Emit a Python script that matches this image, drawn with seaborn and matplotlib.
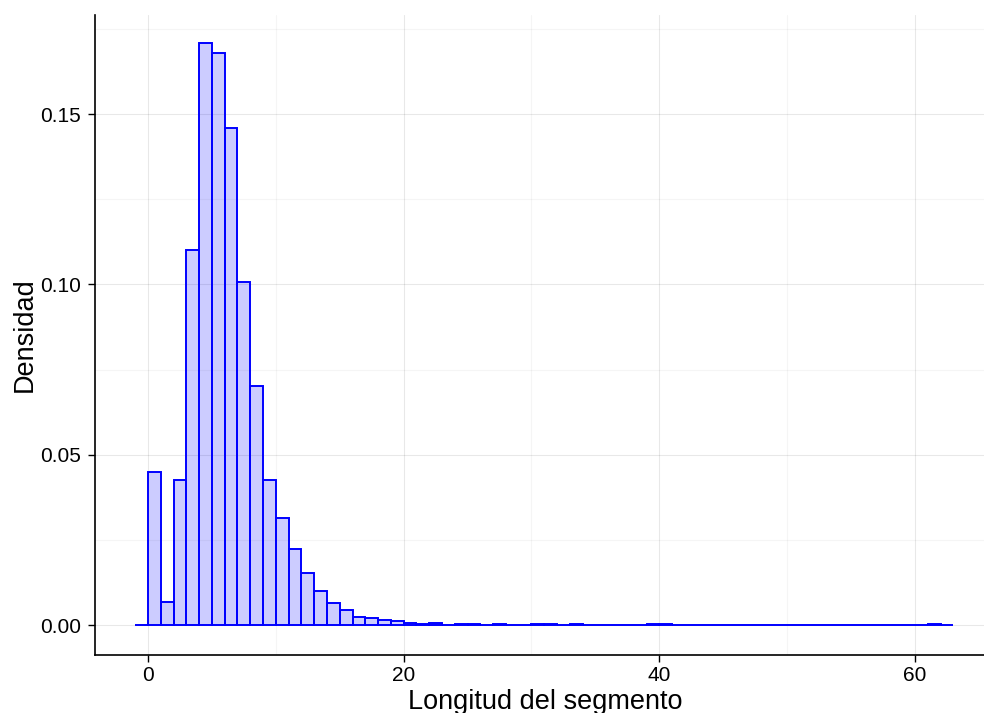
import matplotlib
matplotlib.use("Agg")
import matplotlib.pyplot as plt
import pandas as pd
import seaborn as sns

# bin edges (unit width) and density per bin
bin_left = list(range(-1, 63))
density = [
    0.0,                                                        # -1
    0.0448, 0.0068, 0.0426, 0.1102, 0.1708, 0.1679, 0.1459,     # 0..6
    0.1007, 0.0703, 0.0426, 0.0313, 0.0224, 0.0152, 0.0099,     # 7..13
    0.0064, 0.0044, 0.0023, 0.0021, 0.0014, 0.0012, 0.0007,     # 14..20
    0.0004, 0.0007, 0.0001, 0.0002, 0.0002, 0.0001, 0.0002,     # 21..27
    0.0001, 0.0001, 0.0002, 0.0003, 0.0001, 0.0002, 0.0001,     # 28..34
    0.0, 0.0, 0.0001, 0.0001, 0.0002, 0.0002, 0.0001,           # 35..41
    0.0, 0.0, 0.0, 0.0, 0.0, 0.0, 0.0,                          # 42..48
    0.0, 0.0, 0.0, 0.0, 0.0, 0.0, 0.0,                          # 49..55
    0.0, 0.0, 0.0, 0.0, 0.0, 0.0002, 0.0,                       # 56..62
]
x_ticks = [0, 20, 40, 60]
y_ticks = [0.00, 0.05, 0.10, 0.15]

sns.set_style("white")
plt.rcParams['font.family'] = ['Liberation Sans', 'DejaVu Sans']
plt.rcParams['text.color'] = 'black'
plt.rcParams['axes.labelcolor'] = 'black'
plt.rcParams['xtick.color'] = 'black'
plt.rcParams['ytick.color'] = 'black'

df = pd.DataFrame({"x": [b + 0.5 for b in bin_left], "w": density})

fig = plt.figure(figsize=(9.84, 7.13), dpi=100)
ax = fig.add_axes([0.0965, 0.0813, 0.9035, 0.898])

sns.histplot(data=df, x="x", weights="w", binwidth=1, binrange=(-1, 63),
             stat="count", facecolor=(0, 0, 1, 0.2), edgecolor="blue",
             linewidth=1.4, ax=ax)

ax.set_xlim(-4.15, 65.4)
ax.set_ylim(-0.0088, 0.1792)
ax.set_xticks(x_ticks)
ax.set_xticklabels([str(t) for t in x_ticks])
ax.set_yticks(y_ticks)
ax.set_yticklabels([f"{t:.2f}" for t in y_ticks])
ax.set_xticks([10, 30, 50], minor=True)
ax.set_yticks([0.025, 0.075, 0.125, 0.175], minor=True)

ax.grid(True, which="major", color="black", alpha=0.09, linewidth=0.8)
ax.grid(True, which="minor", color="black", alpha=0.04, linewidth=0.8)
ax.set_axisbelow(True)

for s in ["top", "right"]:
    ax.spines[s].set_visible(False)
for s in ["left", "bottom"]:
    ax.spines[s].set_color("black")
    ax.spines[s].set_linewidth(1.2)

ax.tick_params(axis="both", which="major", direction="out", length=5,
               width=1, labelsize=15, left=True, bottom=True)
ax.tick_params(axis="x", which="major", pad=3)
ax.tick_params(axis="y", which="major", pad=5)
ax.tick_params(axis="both", which="minor", length=0)

ax.set_xlabel("Longitud del segmento", fontsize=19.5, labelpad=0)
ax.set_ylabel("Densidad", fontsize=19.5, labelpad=2)
ax.xaxis.set_label_coords(0.506, -0.085, transform=ax.transAxes)
ax.xaxis.label.set_va("baseline")

fig.savefig("out.png", dpi=100)
